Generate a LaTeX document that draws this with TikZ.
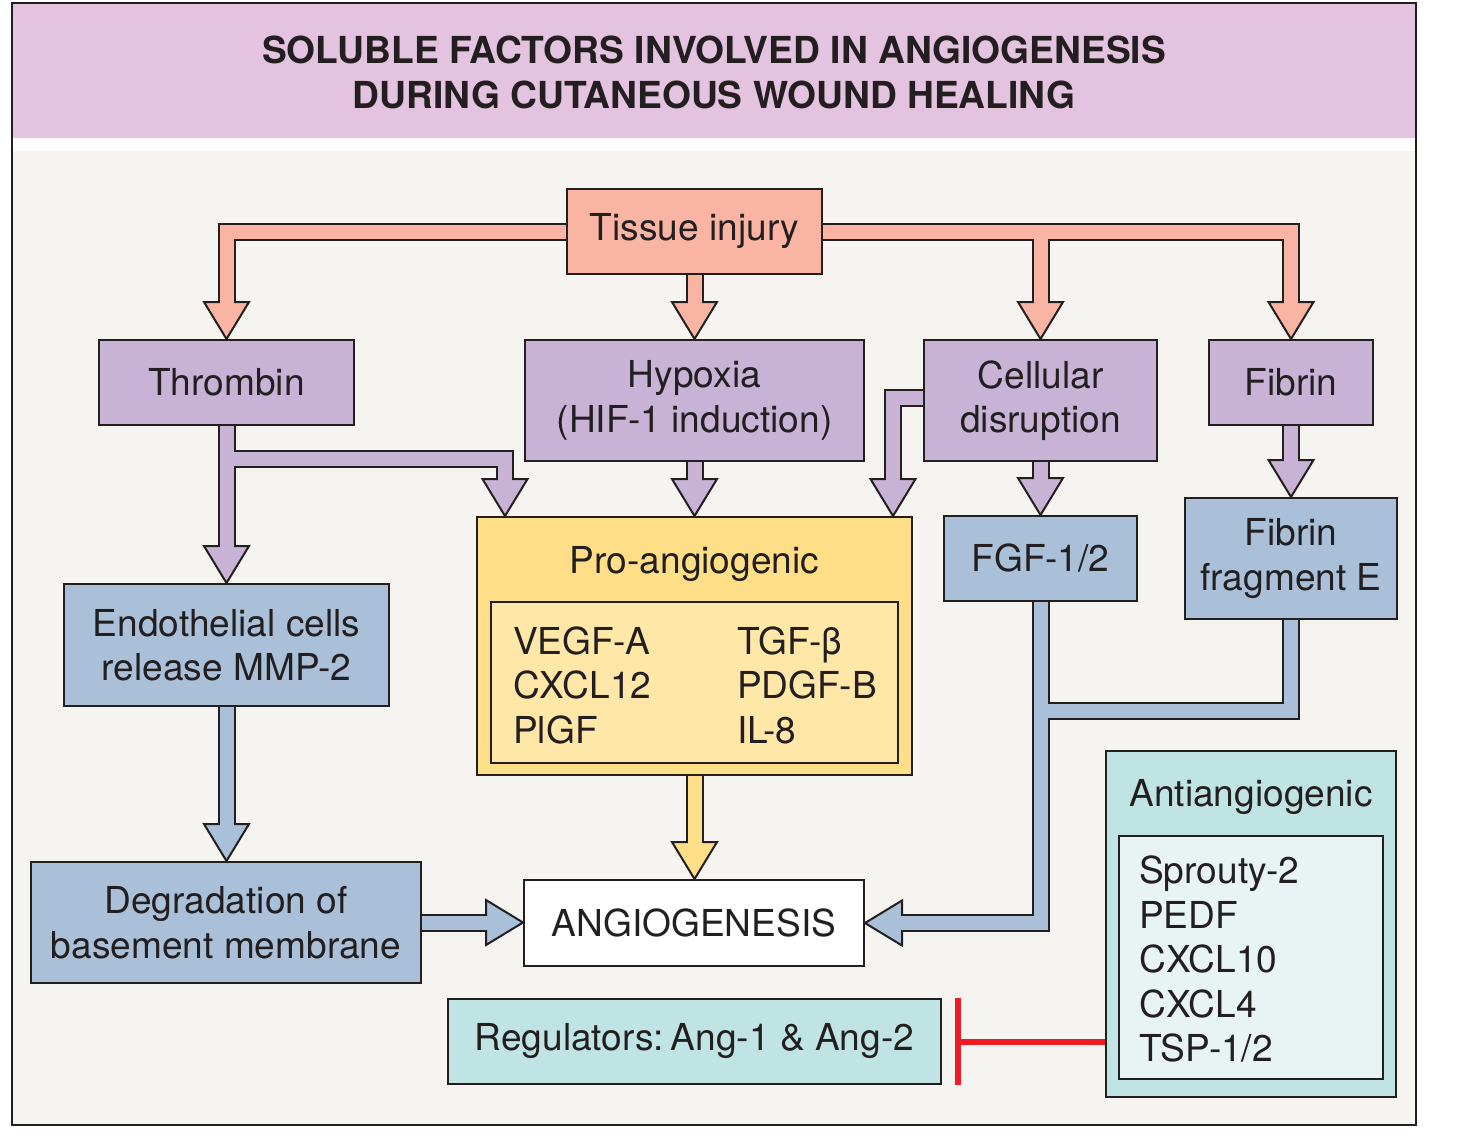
\documentclass[tikz,border=0pt]{standalone}
\usepackage{fontspec}
\setmainfont{TeX Gyre Heros}
\usetikzlibrary{calc}
\definecolor{outl}{HTML}{231F20}
\definecolor{pinkband}{HTML}{E3C3DF}
\definecolor{bgc}{HTML}{F5F4F0}
\definecolor{salmonc}{HTML}{F9B4A3}
\definecolor{lavc}{HTML}{C8B2D6}
\definecolor{bluc}{HTML}{AAC0D8}
\definecolor{yelc}{HTML}{FFDE88}
\definecolor{yelin}{HTML}{FFE7A8}
\definecolor{tealc}{HTML}{BFE4E3}
\definecolor{tealin}{HTML}{E7F4F3}
\definecolor{redc}{HTML}{ED1C24}
\pgfdeclarelayer{bg}\pgfdeclarelayer{arr}\pgfsetlayers{bg,arr,main}
\newcommand\bodyf{\fontsize{37.1}{44.5}\selectfont}
\newcommand\titlef{\fontsize{37.2}{45}\selectfont\bfseries}
\tikzset{
  box/.style={draw=outl, line width=2pt, inner sep=0pt, align=center, text=outl, font=\bodyf},
  lbl/.style={inner sep=0pt, align=left, text=outl, font=\bodyf},
  kline/.style={draw=outl, line width=18pt, line join=miter},
  cline/.style={draw=#1, line width=14pt, line join=miter, shorten >=-4pt},
  head/.style={draw=outl, line width=2pt, line join=miter},
}
\newcommand\hD[2]{\filldraw[head, fill=#1] (#2) -- ++(-22.5,-37) -- ++(45,0) -- cycle;}
\newcommand\hR[2]{\filldraw[head, fill=#1] (#2) -- ++(-37,-22.5) -- ++(0,45) -- cycle;}
\newcommand\hL[2]{\filldraw[head, fill=#1] (#2) -- ++(37,-22.5) -- ++(0,45) -- cycle;}
\newcommand\salArrows[1]{%
  \draw[#1] (tissue.center) -| ([yshift=37pt]thrombin.north);
  \draw[#1] (tissue.center) -| ([yshift=37pt]fibrin.north);
  \draw[#1] (tissue.center) -| ([yshift=37pt]cellular.north);
  \draw[#1] (tissue.center) -- ([yshift=37pt]hypoxia.north);}
\newcommand\lavArrows[1]{%
  \draw[#1] (thrombin.center) -- ([yshift=37pt]endo.north);
  \draw[#1] (thrombin.center) -- ([yshift=-32.5pt]thrombin.south) -| ([yshift=37pt]ttip);
  \draw[#1] (hypoxia.center) -- ([yshift=37pt]pro.north);
  \draw[#1] ([xshift=20pt,yshift=2.5pt]cellular.west) -| ([yshift=37pt]ctip);
  \draw[#1] (cellular.center) -- ([yshift=37pt]fgf.north);
  \draw[#1] (fibrin.center) -- ([yshift=37pt]fragE.north);}
\newcommand\bluArrows[1]{%
  \draw[#1] (endo.center) -- ([yshift=37pt]dtip);
  \draw[#1] (fragE.center) -- ([yshift=-90.5pt]fragE.south) -| (fgf.center);
  \draw[#1] (fgf.center) |- ([xshift=37pt]angio.east);
  \draw[#1] (degr.center) -- ([xshift=-37pt]angio.west |- degr.center);}
\begin{document}
\begin{tikzpicture}[x=1pt,y=-1pt]
\useasboundingbox (0,0) rectangle (1479,1137);
\begin{pgfonlayer}{bg}
  \fill[white] (0,0) rectangle (1479,1137);
  \fill[pinkband] (12,3) rectangle (1416,138);
  \fill[bgc] (12,151) rectangle (1416,1125);
  \draw[outl, line width=2.5pt] (12,3) rectangle (1416,1125);
\end{pgfonlayer}
\node[inner sep=0pt, align=center, text=outl, font=\titlef] (title) at (714,72)
  {SOLUBLE FACTORS INVOLVED IN ANGIOGENESIS\\DURING CUTANEOUS WOUND HEALING};
% boxes
\node[box, fill=salmonc, minimum width=255pt, minimum height=85pt] (tissue) at (694.5,231.5) {Tissue injury};
\node[box, fill=lavc, minimum width=255pt, minimum height=85pt] (thrombin) at (226.5,382.5) {Thrombin};
\node[box, fill=lavc, minimum width=339pt, minimum height=121pt] (hypoxia) at (694.5,400.5) {Hypoxia\\(HIF-1 induction)};
\node[box, fill=lavc, minimum width=233pt, minimum height=121pt] (cellular) at (1040.5,400.5) {Cellular\\disruption};
\node[box, fill=lavc, minimum width=164pt, minimum height=85pt] (fibrin) at (1291,382.5) {Fibrin};
\node[box, fill=yelc, minimum width=435pt, minimum height=258pt] (pro) at (694.5,646) {};
\node[box, fill=yelin, minimum width=407pt, minimum height=161pt] (proin) at (694.5,682.5) {};
\node[lbl] (prolbl) at (694.5,564) {Pro-angiogenic};
\node[lbl, anchor=west] (proL) at (513,685) {VEGF-A\\CXCL12\\PlGF};
\node[lbl, anchor=west] (proR) at (737,685) {TGF-β\\PDGF-B\\IL-8};
\node[box, fill=bluc, minimum width=193pt, minimum height=85pt] (fgf) at (1040.5,558.5) {FGF-1/2};
\node[box, fill=bluc, minimum width=212pt, minimum height=121pt] (fragE) at (1291,558.5) {Fibrin\\fragment E};
\node[box, fill=bluc, minimum width=325pt, minimum height=122pt] (endo) at (226.5,645) {Endothelial cells\\release MMP-2};
\node[box, fill=bluc, minimum width=390pt, minimum height=121pt] (degr) at (226,922.5) {Degradation of\\basement membrane};
\node[box, fill=white, minimum width=340pt, minimum height=86pt] (angio) at (694,923) {ANGIOGENESIS};
\node[box, fill=tealc, minimum width=493pt, minimum height=85pt] (reg) at (694.5,1041.5) {Regulators:\kern7pt Ang-1 \& Ang-2};
\node[box, fill=tealc, minimum width=290pt, minimum height=346pt] (anti) at (1251,924) {};
\node[box, fill=tealin, minimum width=264pt, minimum height=243pt] (antiin) at (1251,957.5) {};
\node[lbl] (antilbl) at (1251,797) {Antiangiogenic};
\node[lbl, anchor=west] (antiL) at (1139,959) {Sprouty-2\\PEDF\\CXCL10\\CXCL4\\TSP-1/2};
\coordinate (ttip) at ([xshift=29pt]pro.north west);
\coordinate (ctip) at ([xshift=-20pt]pro.north east);
\coordinate (dtip) at (endo.center |- degr.north);
\coordinate (ytip) at (pro.center |- angio.north);
% connectors
\begin{pgfonlayer}{arr}
  \salArrows{kline}
  \hD{salmonc}{thrombin.north}\hD{salmonc}{hypoxia.north}\hD{salmonc}{cellular.north}\hD{salmonc}{fibrin.north}
  \salArrows{cline=salmonc}
  \lavArrows{kline}
  \hD{lavc}{endo.north}\hD{lavc}{ttip}\hD{lavc}{pro.north}\hD{lavc}{ctip}\hD{lavc}{fgf.north}\hD{lavc}{fragE.north}
  \lavArrows{cline=lavc}
  \bluArrows{kline}
  \hD{bluc}{dtip}\hL{bluc}{angio.east}\hR{bluc}{angio.west |- degr.center}
  \bluArrows{cline=bluc}
  \draw[kline] (pro.center) -- ([yshift=37pt]ytip);
  \hD{yelc}{ytip}
  \draw[cline=yelc] (pro.center) -- ([yshift=37pt]ytip);
\end{pgfonlayer}
\draw[redc, line width=6pt] (anti.west |- reg.east) -- ([xshift=16pt]reg.east) coordinate (barc);
\draw[redc, line width=6pt] ([xshift=16pt]reg.north east) -- ([xshift=16pt]reg.south east);
\end{tikzpicture}
\end{document}
